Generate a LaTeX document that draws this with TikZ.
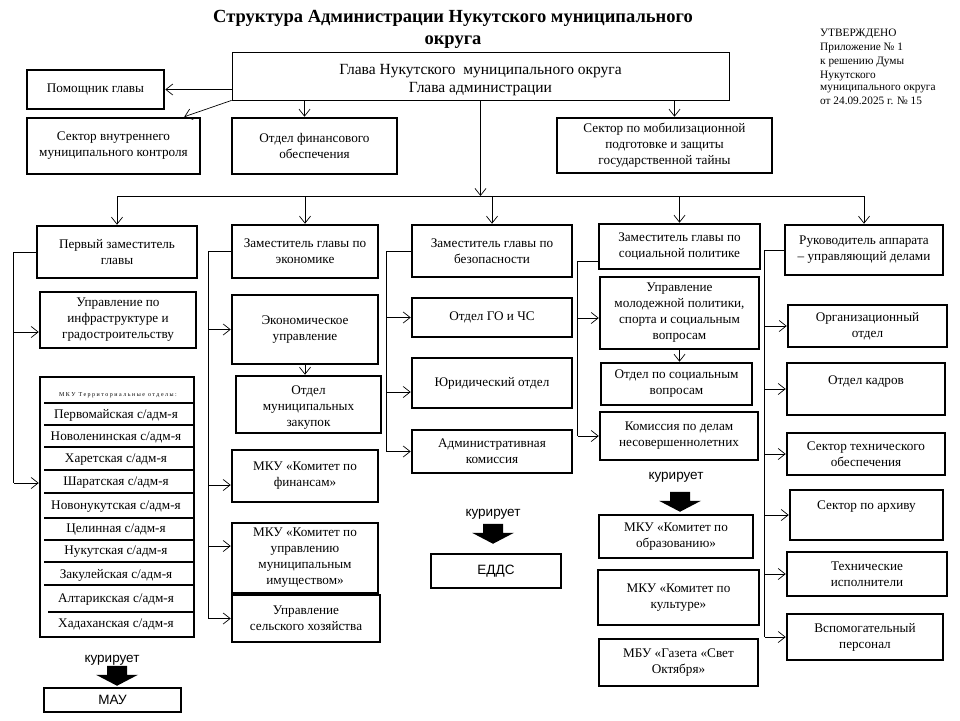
\documentclass[tikz,border=0pt]{standalone}
\usepackage{fontspec}
\setmainfont{Liberation Serif}
\newfontfamily\sansf{Liberation Sans}
\usetikzlibrary{positioning,arrows.meta,calc}

\begin{document}
\begin{tikzpicture}[x=1pt,y=-1pt,
  blk/.style={draw,line width=2.5pt,align=center,inner sep=1pt,font=\fontsize{13.2}{16}\selectfont},
  wh/.style 2 args={minimum width=#1pt,minimum height=#2pt},
  arr/.style={line width=0.7pt,-{Straight Barb[length=7pt,width=11pt]}},
  ln/.style={line width=0.7pt},
  sep/.style={line width=2.5pt},
  row/.style={font=\fontsize{13.2}{14}\selectfont,inner sep=0pt},
  kur/.style={font=\sansf\fontsize{13.5}{15}\selectfont}]
\useasboundingbox (0,0) rectangle (960,720);

\node[font=\bfseries\fontsize{18.5}{22}\selectfont,align=center] (title) at (453,29) {Структура Администрации Нукутского муниципального\\округа};
\node[anchor=north west,align=left,inner sep=0pt,font=\fontsize{11.3}{14}\selectfont] (utv) at (820,29) {УТВЕРЖДЕНО\\Приложение № 1\\к решению Думы\\Нукутского\\[-2pt]муниципального  округа\\от  24.09.2025 г. № 15};

% glava and its own boxes
\node[draw,line width=0.8pt,align=center,wh={497}{48},font=\fontsize{15.5}{18}\selectfont] (glava) at (480.5,76) {\rule{0pt}{19pt}Глава Нукутского \ муниципального округа\\Глава администрации};
\node[blk,wh={137}{39}] (pom) at (95.5,89.5) {Помощник главы};
\node[blk,wh={173}{56}] (svk) at (113.5,146) {Сектор  внутреннего\\муниципального контроля};
\node[blk,wh={165}{56}] (ofin) at (314.5,146) {Отдел  финансового\\обеспечения};
\node[blk,wh={215}{55}] (smob) at (664.5,145.5) {Сектор  по мобилизационной\\подготовке  и защиты\\государственной  тайны};

\draw[arr] (glava.west |- pom.east) -- (pom.east);
\draw[arr] (glava.south west) -- ($(svk.north east)+(-17,0)$);
\coordinate (f1) at ($(ofin.north)+(-10,0)$);
\draw[arr] (glava.south -| f1) -- (f1);
\coordinate (f2) at ($(smob.north)+(10,0)$);
\draw[arr] (glava.south -| f2) -- (f2);

% deputies
\node[blk,wh={160}{52}] (p1) at (117,252) {Первый заместитель\\главы};
\node[blk,wh={146}{53}] (z2) at (305,251.5) {Заместитель главы по\\экономике};
\node[blk,wh={160}{52}] (z3) at (492,251) {Заместитель главы по\\безопасности};
\node[blk,wh={161}{45}] (z4) at (679.5,246.5) {Заместитель главы по\\социальной политике};
\node[blk,wh={158}{50}] (ruk) at (864,250) {Руководитель  аппарата\\– управляющий делами};

\coordinate (bar) at (480.5,196);
\draw[arr] (glava.south) -- (bar);
\draw[ln] (p1.north |- bar) -- (ruk.north |- bar);
\draw[arr] (p1.north |- bar) -- (p1.north);
\draw[arr] (z2.north |- bar) -- (z2.north);
\draw[arr] (z3.north |- bar) -- (z3.north);
\draw[arr] (z4.north |- bar) -- (z4.north);
\draw[arr] (ruk.north |- bar) -- (ruk.north);

% first deputy
\node[blk,wh={156}{56}] (uinf) at (118,320) {Управление по\\инфраструктуре и\\градостроительству};
\node[blk,wh={154}{260}] (ter) at (117,507) {};
\node[font=\fontsize{6}{7}\selectfont\addfontfeature{LetterSpace=25}] (th) at (118,395) {МКУ  Территориальные отделы:};
\node[row] (r1) at (116,415) {Первомайская с/адм-я};
\node[row] (r2) at (116,437) {Новоленинская с/адм-я};
\node[row] (r3) at (116,460) {Харетская  с/адм-я};
\node[row] (r4) at (116,483) {Шаратская  с/адм-я};
\node[row] (r5) at (116,507) {Новонукутская  с/адм-я};
\node[row] (r6) at (116,530) {Целинная  с/адм-я};
\node[row] (r7) at (116,552) {Нукутская  с/адм-я};
\node[row] (r8) at (116,575) {Закулейская  с/адм-я};
\node[row] (r9) at (116,600) {Алтарикская  с/адм-я};
\node[row] (r10) at (116,624) {Хадаханская  с/адм-я};
\draw[sep] (44,403) -- (194,403);
\draw[sep] (44,425) -- (194,425);
\draw[sep] (44,447) -- (194,447);
\draw[sep] (44,470) -- (194,470);
\draw[sep] (44,493) -- (194,493);
\draw[sep] (44,518) -- (194,518);
\draw[sep] (44,540) -- (194,540);
\draw[sep] (44,562) -- (194,562);
\draw[sep] (44,585) -- (194,585);
\draw[sep] (48,612) -- (194,612);
\node[kur] (kur1) at (112,660) {курирует};
\node[blk,wh={137}{24},font=\sansf\fontsize{13.5}{15}\selectfont] (mau) at (112.5,700) {МАУ};
\fill (mau.north) ++(4.5,-1) -- ++(21,-11) -- ++(-11,0) -- ++(0,-9) -- ++(-20,0) -- ++(0,9) -- ++(-11,0) -- cycle;

\coordinate[left=22pt of p1.west] (c1);
\coordinate (t1) at ([yshift=-12pt]uinf.west);
\coordinate (t2) at ([yshift=24pt]ter.west);
\draw[ln] (p1.west) -- (c1) -- (c1 |- t2);
\draw[arr] (c1 |- t1) -- (t1);
\draw[arr] (c1 |- t2) -- (t2);

% economy
\node[blk,wh={146}{69}] (ekon) at (305,329.5) {Экономическое\\управление};
\node[blk,wh={145}{57}] (zak) at (308.5,404.5) {\rule{0pt}{15pt}Отдел\\муниципальных\\закупок};
\node[blk,wh={146}{52}] (mkuf) at (305,476) {МКУ «Комитет по\\финансам»};
\node[blk,wh={146}{70}] (mkui) at (305,558) {МКУ «Комитет по\\управлению\\муниципальным\\имуществом»};
\node[blk,wh={148}{47}] (selh) at (306,618.5) {Управление\\сельского хозяйства};
\draw[arr] (ekon.south) -- (ekon.south |- zak.north);

\coordinate[left=22pt of z2.west] (c2);
\coordinate (t3) at ([yshift=-9pt]mkuf.west);
\coordinate (t4) at ([yshift=12pt]mkui.west);
\draw[ln] (z2.west) -- (c2) -- (c2 |- selh.west);
\draw[arr] (c2 |- ekon.west) -- (ekon.west);
\draw[arr] (c2 |- t3) -- (t3);
\draw[arr] (c2 |- t4) -- (t4);
\draw[arr] (c2 |- selh.west) -- (selh.west);

% safety
\node[blk,wh={160}{39}] (go) at (492,317.5) {Отдел  ГО и ЧС};
\node[blk,wh={160}{50}] (yur) at (492,383) {Юридический  отдел};
\node[blk,wh={160}{43}] (adm) at (492,451.5) {Административная\\комиссия};
\node[kur] (kur3) at (493,514) {курирует};
\node[blk,wh={130}{34},font=\sansf\fontsize{13.5}{15}\selectfont] (edds) at (496,571) {ЕДДС};
\fill (edds.north) ++(-3,-9) -- ++(21,-11) -- ++(-11,0) -- ++(0,-9) -- ++(-20,0) -- ++(0,9) -- ++(-11,0) -- cycle;

\coordinate[left=24pt of z3.west] (c3);
\coordinate (t5) at ([yshift=-9pt]yur.west);
\draw[ln] (z3.west) -- (c3) -- (c3 |- adm.west);
\draw[arr] (c3 |- go.west) -- (go.west);
\draw[arr] (c3 |- t5) -- (t5);
\draw[arr] (c3 |- adm.west) -- (adm.west);

% social
\node[blk,wh={159}{72}] (mol) at (679.5,313) {Управление\\молодежной политики,\\спорта и социальным\\вопросам};
\node[blk,wh={151}{42}] (osv) at (676.5,384) {Отдел  по социальным\\вопросам};
\node[blk,wh={158}{48}] (kdn) at (679,436) {Комиссия по делам\\несовершеннолетних};
\node[kur] (kur4) at (676,477) {курирует};
\node[blk,wh={154}{43}] (obr) at (676,536.5) {МКУ «Комитет по\\образованию»};
\node[blk,wh={161}{55}] (kult) at (678.5,597.5) {МКУ «Комитет по\\культуре»};
\node[blk,wh={159}{47}] (gaz) at (678.5,662.5) {МБУ «Газета «Свет\\Октября»};
\fill (obr.north) ++(4,-2) -- ++(21,-11) -- ++(-11,0) -- ++(0,-9) -- ++(-20,0) -- ++(0,9) -- ++(-11,0) -- cycle;
\draw[arr] (mol.south) -- (mol.south |- osv.north);

\coordinate (s4) at ([yshift=-15pt]z4.west);
\coordinate[left=20pt of s4] (c4);
\coordinate (t6) at ([yshift=-5pt]mol.west);
\draw[ln] (s4) -- (c4) -- (c4 |- kdn.west);
\draw[arr] (c4 |- t6) -- (t6);
\draw[arr] (c4 |- kdn.west) -- (kdn.west);

% apparatus
\node[blk,wh={159}{42}] (org) at (867.5,326) {Организационный\\отдел};
\node[blk,wh={158}{52}] (kadr) at (866,389) {Отдел  кадров\\[2pt]~};
\node[blk,wh={158}{42}] (stech) at (866,454) {Сектор  технического\\обеспечения};
\node[blk,wh={153}{50}] (arh) at (866.5,515) {Сектор  по архиву\\[4pt]~};
\node[blk,wh={160}{44}] (tisp) at (867,574) {Технические\\исполнители};
\node[blk,wh={156}{46}] (vsp) at (865,637) {Вспомогательный\\персонал};

\coordinate[left=19pt of ruk.west] (c5);
\draw[ln] (ruk.west) -- (c5) -- (c5 |- vsp.west);
\draw[arr] (c5 |- org.west) -- (org.west);
\draw[arr] (c5 |- kadr.west) -- (kadr.west);
\draw[arr] (c5 |- stech.west) -- (stech.west);
\draw[arr] (c5 |- arh.west) -- (arh.west);
\draw[arr] (c5 |- tisp.west) -- (tisp.west);
\draw[arr] (c5 |- vsp.west) -- (vsp.west);
\end{tikzpicture}
\end{document}
